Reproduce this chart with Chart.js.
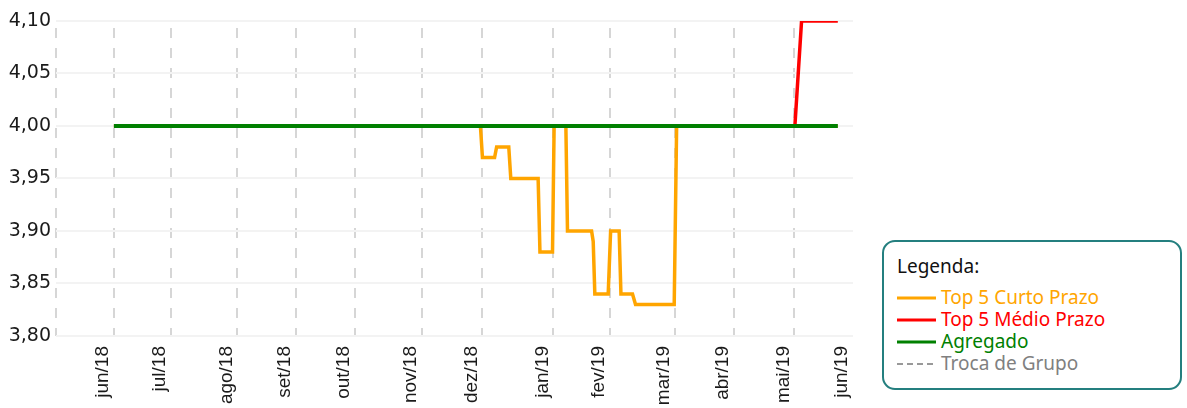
<!DOCTYPE html>
<html>
<head>
<meta charset="utf-8">
<script src="https://cdn.jsdelivr.net/npm/chart.js@4/dist/chart.umd.min.js"></script>
<style>
  html, body { margin: 0; padding: 0; background: #ffffff; }
  body { width: 1187px; height: 408px; position: relative; overflow: hidden; }
  #wrap { position: absolute; left: 0; top: 0; width: 871px; height: 408px; }
  #legend {
    position: absolute; left: 882px; top: 240px; width: 296px; height: 146px;
    border: 2px solid #247f7f; border-radius: 13px; background: #fff;
    font-family: "Noto Sans", sans-serif; font-size: 19px;
  }
  #legend .title { position: absolute; left: 13px; top: 12px; color: #111; line-height: 24px; }
  #legend .row { position: absolute; left: 13px; height: 22px; line-height: 22px; white-space: nowrap; }
  #legend .row svg { position: absolute; left: 0; top: 0; }
  #legend .row span { position: absolute; left: 44px; top: -1px; }
</style>
</head>
<body>
<div id="wrap"><canvas id="c" width="871" height="408"></canvas></div>
<div id="legend">
  <div class="title">Legenda:</div>
  <div class="row" style="top:45px"><svg width="40" height="22"><line x1="0" y1="11" x2="39" y2="11" stroke="#FFA500" stroke-width="3"/></svg><span style="color:#FFA500">Top 5 Curto Prazo</span></div>
  <div class="row" style="top:67px"><svg width="40" height="22"><line x1="0" y1="11" x2="39" y2="11" stroke="#FF0000" stroke-width="3"/></svg><span style="color:#FF0000">Top 5 Médio Prazo</span></div>
  <div class="row" style="top:89px"><svg width="40" height="22"><line x1="0" y1="11" x2="39" y2="11" stroke="#008000" stroke-width="3"/></svg><span style="color:#008000">Agregado</span></div>
  <div class="row" style="top:111px"><svg width="40" height="22"><line x1="0" y1="11" x2="39" y2="11" stroke="#999999" stroke-width="2" stroke-dasharray="6,4"/></svg><span style="color:#808080">Troca de Grupo</span></div>
</div>
<script>
// x values are day offsets from the start of jun/18
const monthLabels = ["jun/18","jul/18","ago/18","set/18","out/18","nov/18","dez/18","jan/19","fev/19","mar/19","abr/19","mai/19","jun/19"];
const monthTickPos = [0, 28, 61, 90, 119, 152, 182, 217, 245, 277, 306, 336, 365];
const yTicks = [3.80, 3.85, 3.90, 3.95, 4.00, 4.05, 4.10];

const curtoX = [0, 181, 182, 188, 189, 195, 196, 209.5, 210.4, 216.6, 217.4, 223.2, 224, 235.9, 236.7, 237.5, 244.1, 245.3, 249.5, 250.4, 256.1, 257.6, 276.7, 277.9, 357.5];
const curtoY = [4.00, 4.00, 3.97, 3.97, 3.98, 3.98, 3.95, 3.95, 3.88, 3.88, 4.00, 4.00, 3.90, 3.90, 3.89, 3.84, 3.84, 3.90, 3.90, 3.84, 3.84, 3.83, 3.83, 4.00, 4.00];

const medioX = [0, 336.3, 339.6, 357.5];
const medioY = [4.00, 4.00, 4.10, 4.10];

const agregX = [0, 357.5];
const agregY = [4.00, 4.00];

const toPts = (xs, ys) => xs.map((x, i) => ({ x: x, y: ys[i] }));
const X_MIN = -28.6;

new Chart(document.getElementById('c'), {
  type: 'line',
  data: {
    datasets: [
      { label: 'Agregado', data: toPts(agregX, agregY), borderColor: '#008000', borderWidth: 4 },
      { label: 'Top 5 Curto Prazo', data: toPts(curtoX, curtoY), borderColor: '#FFA500', borderWidth: 3.5 },
      { label: 'Top 5 Médio Prazo', data: toPts(medioX, medioY), borderColor: '#FF0000', borderWidth: 3.5 }
    ]
  },
  options: {
    responsive: false,
    animation: false,
    parsing: false,
    elements: { point: { radius: 0 }, line: { tension: 0, fill: false, borderJoinStyle: 'miter' } },
    layout: { padding: { top: 21, right: 18, left: 0, bottom: 0 } },
    plugins: { legend: { display: false }, tooltip: { enabled: false } },
    scales: {
      x: {
        type: 'linear',
        min: X_MIN,
        max: 365,
        afterBuildTicks: (scale) => {
          scale.ticks = [{ value: X_MIN }].concat(monthTickPos.map(v => ({ value: v })));
        },
        afterFit: (scale) => { scale.height = 72; scale.paddingRight = 0; scale.paddingLeft = 0; },
        grid: {
          drawTicks: false,
          lineWidth: 2,
          color: (ctx) => (ctx.index === monthTickPos.length ? 'rgba(0,0,0,0)' : '#d6d6d6')
        },
        border: { display: false, dash: [10, 10], dashOffset: 13 },
        ticks: {
          autoSkip: false,
          maxRotation: 90,
          minRotation: 90,
          labelOffset: -11,
          padding: 10,
          color: '#1a1a1a',
          font: { family: 'Liberation Sans', size: 19 },
          callback: (v, i) => (i === 0 ? '' : monthLabels[i - 1])
        }
      },
      y: {
        min: 3.80,
        max: 4.10,
        afterBuildTicks: (scale) => { scale.ticks = yTicks.map(v => ({ value: v })); },
        afterFit: (scale) => { scale.width = 56; },
        grid: { drawTicks: false, color: '#f3f3f3', lineWidth: 2 },
        border: { display: false },
        ticks: {
          padding: 5,
          color: '#1a1a1a',
          font: { family: 'DejaVu Sans', size: 19 },
          callback: (v) => v.toFixed(2).replace('.', ',')
        }
      }
    }
  }
});
</script>
</body>
</html>
